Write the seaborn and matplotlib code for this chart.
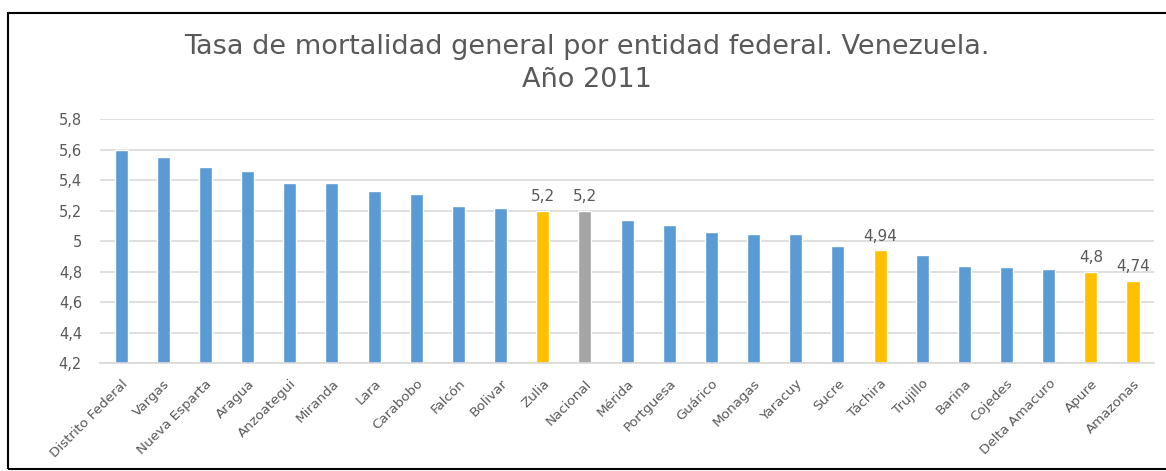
import matplotlib
matplotlib.use('Agg')
import matplotlib.pyplot as plt
import seaborn as sns
import pandas as pd
from matplotlib.patches import Rectangle

# Data
entidades = ['Distrito Federal', 'Vargas', 'Nueva Esparta', 'Aragua', 'Anzoategui',
             'Miranda', 'Lara', 'Carabobo', 'Falcón', 'Bolivar', 'Zulia', 'Nacional',
             'Mérida', 'Portguesa', 'Guárico', 'Monagas', 'Yaracuy', 'Sucre', 'Táchira',
             'Trujillo', 'Barina', 'Cojedes', 'Delta Amacuro', 'Apure', 'Amazonas']
tasas = [5.6, 5.55, 5.49, 5.46, 5.38, 5.38, 5.33, 5.31, 5.23, 5.22, 5.2, 5.2,
         5.14, 5.11, 5.06, 5.05, 5.05, 4.97, 4.94, 4.91, 4.84, 4.83, 4.82, 4.8, 4.74]
destacados = ['Zulia', 'Táchira', 'Apure', 'Amazonas']
etiquetas = {'Zulia': '5,2', 'Nacional': '5,2', 'Táchira': '4,94', 'Apure': '4,8', 'Amazonas': '4,74'}
yticks = [4.2, 4.4, 4.6, 4.8, 5.0, 5.2, 5.4, 5.6, 5.8]
ytick_labels = ['4,2', '4,4', '4,6', '4,8', '5', '5,2', '5,4', '5,6', '5,8']

df = pd.DataFrame({'entidad': entidades, 'tasa': tasas})

blue = '#5B9BD5'
yellow = '#FFC000'
grey = '#A5A5A5'
text_col = '#595959'

palette = {}
for e in entidades:
    if e == 'Nacional':
        palette[e] = grey
    elif e in destacados:
        palette[e] = yellow
    else:
        palette[e] = blue

sns.set_style('white')
plt.rcParams['font.family'] = ['DejaVu Sans']

fig = plt.figure(figsize=(11.66, 4.71), dpi=100)
ax = fig.add_axes([0.0858, 0.2287, 0.904, 0.518])

sns.barplot(data=df, x='entidad', y='tasa', hue='entidad', palette=palette,
            legend=False, width=0.31, ax=ax, saturation=1)

ax.set_ylim(4.2, 5.8)
ax.set_xlim(-0.5, len(entidades) - 0.5)
ax.set_yticks(yticks)
ax.set_yticklabels(ytick_labels, fontsize=10.5, color=text_col)
ax.set_xticks(range(len(entidades)))
ax.set_xticklabels(entidades, rotation=45, ha='right', rotation_mode='anchor',
                   fontsize=9.7, color=text_col)
ax.tick_params(axis='y', length=0, pad=13)
ax.tick_params(axis='x', length=0, pad=10)
ax.set_xlabel('')
ax.set_ylabel('')
ax.yaxis.grid(True, color='#D9D9D9', linewidth=1.2)
ax.set_axisbelow(True)
for s in ['top', 'right', 'left']:
    ax.spines[s].set_visible(False)
ax.spines['bottom'].set_color('#D9D9D9')
ax.spines['bottom'].set_linewidth(1.2)

for i, e in enumerate(entidades):
    if e in etiquetas:
        ax.text(i, tasas[i] + 0.045, etiquetas[e], ha='center', va='bottom',
                fontsize=11, color=text_col)

fig.text(0.503, 0.865, 'Tasa de mortalidad general por entidad federal. Venezuela.\nAño 2011',
         ha='center', va='center', fontsize=19.5, color=text_col, linespacing=1.35)

# chart border
fig.patches.append(Rectangle((8 / 1166, 2 / 471), 1.0, 456 / 471, transform=fig.transFigure,
                             fill=False, edgecolor='black', linewidth=1.5))

fig.savefig('out.png', dpi=100)
